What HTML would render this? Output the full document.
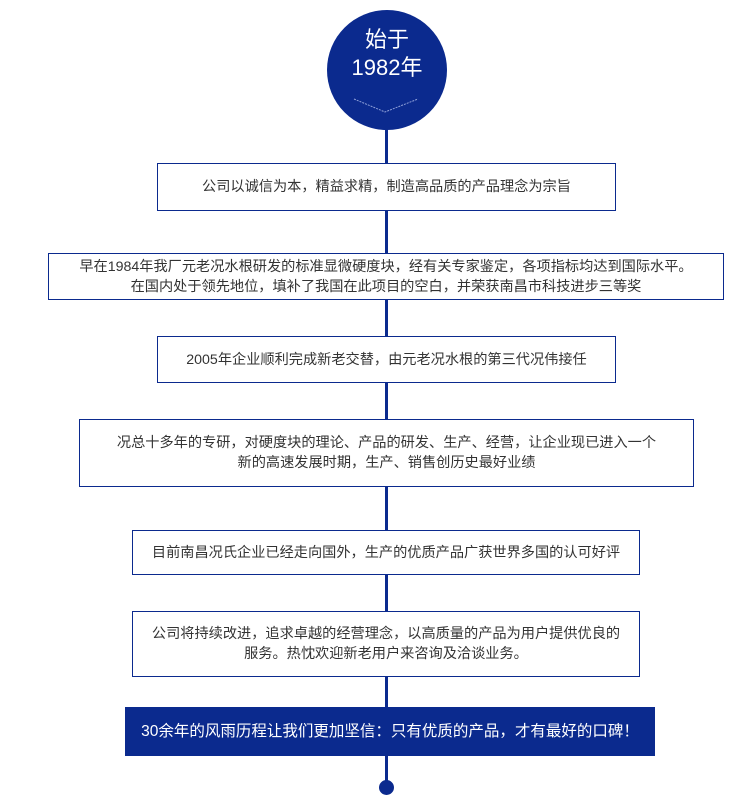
<!DOCTYPE html>
<html><head><meta charset="utf-8"><style>
body{margin:0;width:750px;height:804px;background:#fff;position:relative;font-family:"Liberation Sans","Noto Sans CJK SC",sans-serif;overflow:hidden}
.line{position:absolute;left:385px;top:100px;width:3px;height:688px;background:#0b2a8e}
.c{position:absolute;left:327px;top:10px;width:120px;height:120px;border-radius:50%;background:#0b2a8e;color:#fff;text-align:center;font-size:22px;line-height:28px}
.b{position:absolute;background:#fff;border:1px solid #0b2a8e;box-sizing:border-box;display:flex;align-items:center;justify-content:center;text-align:center;font-size:14.2px;line-height:20px;color:#333;white-space:nowrap}
.dot{position:absolute;left:379px;top:780px;width:15px;height:15px;border-radius:50%;background:#0b2a8e}
</style></head><body>
<div class="line"></div>
<div class="c"><div style="margin-top:16px">始于</div><div>1982年</div>
<svg width="120" height="20" style="position:absolute;left:0;top:88px"><polyline points="27,1 58,14 91,1" fill="none" stroke="#8fa0d8" stroke-width="1" stroke-dasharray="2,1"/></svg></div>
<div class="b" style="left:157px;top:163px;width:459px;height:48px">公司以诚信为本，精益求精，制造高品质的产品理念为宗旨</div>
<div class="b" style="left:48px;top:253px;width:676px;height:47px">早在1984年我厂元老况水根研发的标准显微硬度块，经有关专家鉴定，各项指标均达到国际水平。<br>在国内处于领先地位，填补了我国在此项目的空白，并荣获南昌市科技进步三等奖</div>
<div class="b" style="left:157px;top:336px;width:459px;height:47px">2005年企业顺利完成新老交替，由元老况水根的第三代况伟接任</div>
<div class="b" style="left:79px;top:419px;width:615px;height:68px">况总十多年的专研，对硬度块的理论、产品的研发、生产、经营，让企业现已进入一个<br>新的高速发展时期，生产、销售创历史最好业绩</div>
<div class="b" style="left:132px;top:530px;width:508px;height:45px">目前南昌况氏企业已经走向国外，生产的优质产品广获世界多国的认可好评</div>
<div class="b" style="left:132px;top:611px;width:508px;height:66px">公司将持续改进，追求卓越的经营理念，以高质量的产品为用户提供优良的<br>服务。热忱欢迎新老用户来咨询及洽谈业务。</div>
<div class="b" style="left:125px;top:707px;width:530px;height:49px;background:#0b2a8e;color:#fff;font-size:15.5px">30余年的风雨历程让我们更加坚信：只有优质的产品，才有最好的口碑！</div>
<div class="dot"></div>
</body></html>
